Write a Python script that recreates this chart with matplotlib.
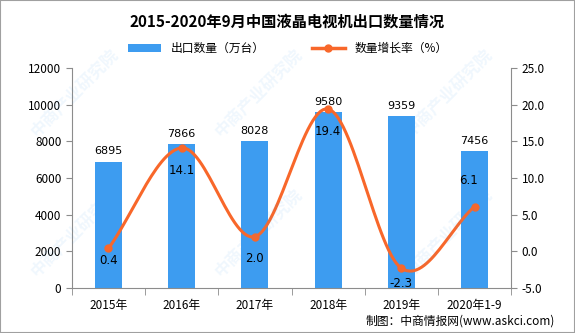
import matplotlib.pyplot as plt
import numpy as np
from matplotlib.patches import Rectangle

plt.rcParams['font.family'] = ['Noto Sans CJK SC', 'DejaVu Sans']

# 数据
categories = ['2015年', '2016年', '2017年', '2018年', '2019年', '2020年1-9']
export_qty = [6895, 7866, 8028, 9580, 9359, 7456]
growth = [0.4, 14.1, 2.0, 19.4, -2.3, 6.1]

bar_color = '#3d9cf0'
line_color = '#f8672a'
axis_color = '#8c8c8c'


def catmull_rom(x, y, n=30):
    """平滑曲线（类似 Excel 平滑线）"""
    x = np.asarray(x, float)
    y = np.asarray(y, float)
    px = np.concatenate([[2 * x[0] - x[1]], x, [2 * x[-1] - x[-2]]])
    py = np.concatenate([[2 * y[0] - y[1]], y, [2 * y[-1] - y[-2]]])
    xs, ys = [], []
    for i in range(1, len(px) - 2):
        t = np.linspace(0, 1, n)
        for p, out in ((px, xs), (py, ys)):
            p0, p1, p2, p3 = p[i - 1], p[i], p[i + 1], p[i + 2]
            out.extend(0.5 * (2 * p1 + (-p0 + p2) * t
                              + (2 * p0 - 5 * p1 + 4 * p2 - p3) * t ** 2
                              + (-p0 + 3 * p1 - 3 * p2 + p3) * t ** 3))
    return np.array(xs), np.array(ys)


fig = plt.figure(figsize=(5.75, 3.33), dpi=100)
fig.patches.append(Rectangle((0, 0), 1, 1, transform=fig.transFigure,
                             fill=False, edgecolor='#a0a0a0', linewidth=1.5))

# 水印
for wx, wy in [(0.13, 0.72), (0.45, 0.72), (0.78, 0.72),
               (0.13, 0.3), (0.45, 0.3), (0.78, 0.3)]:
    fig.text(wx, wy, '中商产业研究院', rotation=45, fontsize=12, color='#3d9cf0',
             alpha=0.08, ha='center', va='center', fontweight='bold', zorder=0)

ax = fig.add_axes([0.125, 0.135, 0.764, 0.661])
ax.patch.set_alpha(0)
x = np.arange(len(categories))

bars = ax.bar(x, export_qty, width=0.37, color=bar_color, zorder=2,
              label='出口数量（万台）')
for xi, v in zip(x, export_qty):
    ax.text(xi, v + 280, str(v), ha='center', va='bottom', fontsize=8,
            family='DejaVu Sans')

ax.set_ylim(0, 12000)
ax.set_yticks(np.arange(0, 12001, 2000))
ax.set_xlim(-0.5, len(categories) - 0.5)
ax.set_xticks(x)
ax.set_xticklabels(categories, fontsize=8.5)
ax.set_xticks(np.arange(-0.5, len(categories), 1), minor=True)
ax.tick_params(axis='x', which='major', length=0, pad=8)
ax.tick_params(axis='x', which='minor', length=5, color=axis_color)
ax.tick_params(axis='y', length=4, color=axis_color, labelsize=8.5)
for s in ['top', 'right']:
    ax.spines[s].set_visible(False)
for s in ['left', 'bottom']:
    ax.spines[s].set_color(axis_color)

ax2 = ax.twinx()
ax2.set_ylim(-5, 25)
ax2.set_yticks(np.arange(-5, 25.1, 5))
ax2.set_yticklabels([f'{t:.1f}' for t in np.arange(-5, 25.1, 5)], fontsize=8.5)
ax2.tick_params(axis='y', length=4, color=axis_color)
for s in ['top', 'left', 'bottom']:
    ax2.spines[s].set_visible(False)
ax2.spines['right'].set_color(axis_color)

sx, sy = catmull_rom(x, growth)
ax2.plot(sx, sy, color=line_color, linewidth=2.2, zorder=3)
ax2.plot(x, growth, 'o', color=line_color, markersize=5, zorder=4)
line_handle, = ax2.plot([], [], color=line_color, linewidth=2.5, marker='o',
                        markersize=5, label='数量增长率（%）')

# 增长率标签的偏移（单位：右轴刻度）
label_dy = [-1.6, -3.1, -3.0, -3.1, -2.1, 3.6]
label_dx = [0, 0, 0, 0, 0, -0.08]
for xi, g, dy, dx in zip(x, growth, label_dy, label_dx):
    ax2.text(xi + dx, g + dy, f'{g:.1f}', ha='center', va='center',
             fontsize=8.5, family='DejaVu Sans', zorder=5)

fig.text(0.5, 0.935, '2015-2020年9月中国液晶电视机出口数量情况',
         ha='center', va='center', fontsize=11, fontweight='bold')
fig.legend(handles=[bars, line_handle], loc='center', ncol=2,
           bbox_to_anchor=(0.5, 0.855), frameon=False, fontsize=8.5,
           handlelength=2.8, columnspacing=4)
fig.text(0.965, 0.035, '制图：中商情报网(www.askci.com)', ha='right',
         va='center', fontsize=8.5)

fig.savefig('out.png', dpi=100)
